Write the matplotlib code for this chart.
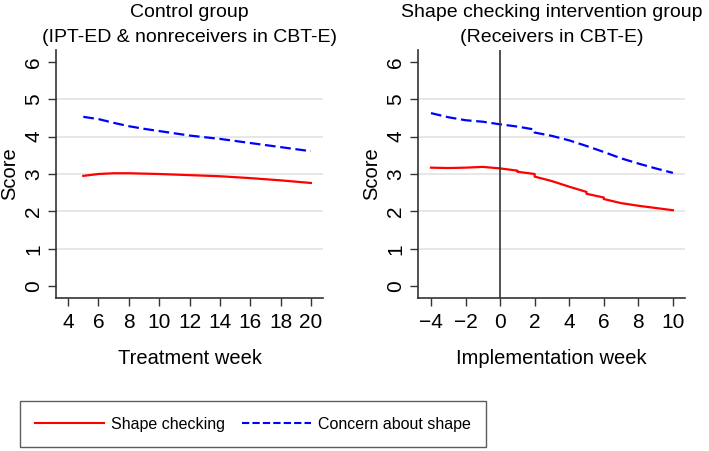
import matplotlib.pyplot as plt
from matplotlib.lines import Line2D

plt.rcParams['font.family'] = ['Liberation Sans', 'DejaVu Sans']

# Control group
ctrl_week = [5, 6, 7, 8, 9, 10, 12, 14, 16, 18, 20]
ctrl_check = [2.95, 3.00, 3.02, 3.02, 3.01, 3.00, 2.97, 2.94, 2.89, 2.83, 2.76]
ctrl_concern = [4.53, 4.47, 4.37, 4.28, 4.21, 4.15, 4.03, 3.94, 3.83, 3.72, 3.61]

# Intervention group
int_week = [-4, -3, -2, -1, 0, 1, 1, 2, 2, 3, 4, 5, 5, 6, 6, 7, 8, 9, 10]
int_check = [3.17, 3.16, 3.17, 3.19, 3.15, 3.09, 3.06, 3.00, 2.93, 2.81, 2.66, 2.52, 2.47, 2.37, 2.33, 2.22, 2.15, 2.09, 2.03]
int_week_c = [-4, -3, -2, -1, 0, 1, 2, 2, 3, 4, 5, 6, 7, 8, 9, 10]
int_concern = [4.63, 4.52, 4.44, 4.40, 4.33, 4.27, 4.19, 4.11, 4.02, 3.90, 3.75, 3.59, 3.42, 3.28, 3.15, 3.03]

fig = plt.figure(figsize=(7.09, 4.51), dpi=100)
ax1 = fig.add_axes([56/709, 1-298/451, 267/709, 248/451])
ax2 = fig.add_axes([418/709, 1-298/451, 267/709, 248/451])

def style(ax):
    ax.set_ylim(-0.32, 6.32)
    ax.set_yticks(range(7))
    for s in ['top', 'right']:
        ax.spines[s].set_visible(False)
    for s in ['left', 'bottom']:
        ax.spines[s].set_color('#333333')
        ax.spines[s].set_linewidth(1.2)
    for y in range(1, 6):
        ax.axhline(y, color='#e3e3e3', lw=1.2, zorder=0)
    ax.tick_params(axis='both', labelsize=15, length=6, width=1, color='#333333')
    ax.tick_params(axis='x', pad=5)
    ax.tick_params(axis='y', pad=3)
    for lab in ax.get_yticklabels():
        lab.set_rotation(90)
        lab.set_va('center')
    ax.set_ylabel('Score', fontsize=14.5, labelpad=4)

ax1.plot(ctrl_week, ctrl_check, color='#ff0000', lw=1.6)
ax1.plot(ctrl_week, ctrl_concern, color='#0000ff', lw=1.6, dashes=(4.8, 2.1))
ax1.set_xlim(3.2, 20.8)
ax1.set_xticks(range(4, 21, 2))
style(ax1)
ax1.set_xlabel('Treatment week', fontsize=14.5, labelpad=12)
ax1.set_title('Control group\n(IPT-ED & nonreceivers in CBT-E)', fontsize=14, pad=6, linespacing=1.6)

ax2.plot(int_week, int_check, color='#ff0000', lw=1.6)
ax2.plot(int_week_c, int_concern, color='#0000ff', lw=1.6, dashes=(4.8, 2.1))
ax2.axvline(0, color='#333333', lw=1.2)
ax2.set_xlim(-4.75, 10.7)
ax2.set_xticks(range(-4, 11, 2))
ax2.set_xticklabels(['\u22124', '\u22122', '0', '2', '4', '6', '8', '10'])
style(ax2)
ax2.set_xlabel('Implementation week', fontsize=14.5, labelpad=12)
ax2.set_title('Shape checking intervention group\n(Receivers in CBT-E)', fontsize=14, pad=6, linespacing=1.6)

h1 = Line2D([], [], color='#ff0000', lw=1.5)
h2 = Line2D([], [], color='#0000ff', lw=1.5, dashes=(3.5, 1.5))
leg = fig.legend([h1, h2], ['Shape checking', 'Concern about shape'], ncol=2,
                 loc='center', bbox_to_anchor=(253/709, 1-424/451),
                 prop={'size': 11.5}, frameon=True, fancybox=False,
                 edgecolor='#333333', handlelength=4.3, columnspacing=1.1,
                 borderpad=0.95, handletextpad=0.45, borderaxespad=0)
leg.get_frame().set_linewidth(1.0)

fig.savefig('out.png', dpi=100)
